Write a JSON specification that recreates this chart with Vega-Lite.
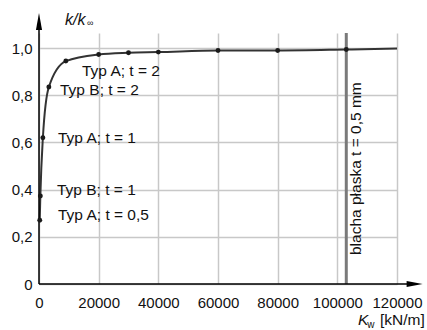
{
  "$schema": "https://vega.github.io/schema/vega-lite/v6.json",
  "width": 358,
  "height": 251,
  "autosize": "none",
  "padding": {"left": 39, "top": 33, "right": 30, "bottom": 46},
  "background": "white",
  "config": {"view": {"stroke": null}, "font": "Liberation Sans"},
  "datasets": {
    "curve": [
      {"kw": 250, "k": 0.27, "pt": true},
      {"kw": 450, "k": 0.373, "pt": true},
      {"kw": 1300, "k": 0.62, "pt": true},
      {"kw": 3300, "k": 0.835, "pt": true},
      {"kw": 9000, "k": 0.945, "pt": true},
      {"kw": 20000, "k": 0.973, "pt": true},
      {"kw": 30000, "k": 0.98, "pt": true},
      {"kw": 40000, "k": 0.983, "pt": true},
      {"kw": 60000, "k": 0.99, "pt": true},
      {"kw": 80000, "k": 0.99, "pt": true},
      {"kw": 103000, "k": 0.994, "pt": true},
      {"kw": 120000, "k": 0.998, "pt": false}
    ],
    "labels": [
      {"label": "Typ A; t = 2", "lx": 14400, "ly": 0.9025},
      {"label": "Typ B; t = 2", "lx": 7040, "ly": 0.822},
      {"label": "Typ A; t = 1", "lx": 6370, "ly": 0.619},
      {"label": "Typ B; t = 1", "lx": 6030, "ly": 0.398},
      {"label": "Typ A; t = 0,5", "lx": 6370, "ly": 0.292}
    ],
    "one": [{}]
  },
  "layer": [
    {
      "data": {"name": "curve"},
      "mark": {"type": "line", "interpolate": "monotone", "color": "#333333", "strokeWidth": 2},
      "encoding": {
        "x": {
          "field": "kw", "type": "quantitative",
          "scale": {"domain": [0, 120000], "nice": false, "zero": false},
          "axis": {
            "values": [0, 20000, 40000, 60000, 80000, 100000, 120000],
            "format": "d", "title": null, "grid": true, "gridColor": "#c8c8c8", "gridWidth": 1.5,
            "domain": false, "ticks": false, "tickSize": 0, "labelPadding": 11, "labelOverlap": false, "labelFlush": false,
            "labelFontSize": 15, "labelColor": "#111111", "labelFont": "Liberation Sans"
          }
        },
        "y": {
          "field": "k", "type": "quantitative",
          "scale": {"domain": [0, 1.064], "nice": false, "zero": false},
          "axis": {
            "values": [0, 0.2, 0.4, 0.6, 0.8, 1.0],
            "labelExpr": "datum.value == 0 ? '0' : replace(format(datum.value, '.1f'), '.', ',')",
            "title": null, "grid": true, "gridColor": "#c8c8c8", "gridWidth": 1.5,
            "domain": false, "ticks": false, "tickSize": 0, "labelPadding": 7, "labelOverlap": false, "labelFlush": false,
            "labelFontSize": 15, "labelColor": "#111111", "labelFont": "Liberation Sans"
          }
        }
      }
    },
    {
      "data": {"name": "one"},
      "mark": {"type": "rule", "color": "#7a7a7a", "strokeWidth": 3},
      "encoding": {"x": {"datum": 103000}, "y": {"datum": 0}, "y2": {"datum": 1.064}}
    },
    {
      "data": {"name": "one"},
      "mark": {"type": "rule", "color": "#000000", "strokeWidth": 1.5},
      "encoding": {"x": {"datum": 0}, "y": {"datum": 0}, "y2": {"datum": 1.11}}
    },
    {
      "data": {"name": "one"},
      "mark": {"type": "rule", "color": "#000000", "strokeWidth": 1.5},
      "encoding": {"y": {"datum": 0}, "x": {"datum": 0}, "x2": {"datum": 125900}}
    },
    {
      "data": {"name": "one"},
      "mark": {"type": "point", "shape": "M0,-1L0.36,1L-0.36,1Z", "filled": true, "size": 289, "color": "#000000", "opacity": 1},
      "encoding": {"x": {"datum": 0}, "y": {"datum": 1.113}}
    },
    {
      "data": {"name": "one"},
      "mark": {"type": "point", "shape": "M1,0L-1,-0.375L-1,0.375Z", "filled": true, "size": 256, "color": "#000000", "opacity": 1},
      "encoding": {"x": {"datum": 125900}, "y": {"datum": 0}}
    },
    {
      "data": {"name": "curve"},
      "transform": [{"filter": "datum.pt"}],
      "mark": {"type": "circle", "color": "#1a1a1a", "size": 24, "opacity": 1},
      "encoding": {"x": {"field": "kw", "type": "quantitative"}, "y": {"field": "k", "type": "quantitative"}}
    },
    {
      "data": {"name": "labels"},
      "mark": {"type": "text", "align": "left", "baseline": "middle", "fontSize": 15.5, "color": "#111111"},
      "encoding": {
        "x": {"field": "lx", "type": "quantitative"},
        "y": {"field": "ly", "type": "quantitative"},
        "text": {"field": "label"}
      }
    },
    {
      "data": {"name": "one"},
      "mark": {"type": "text", "angle": 270, "align": "center", "baseline": "middle", "fontSize": 15.5, "color": "#111111", "text": "blacha płaska t = 0,5 mm"},
      "encoding": {"x": {"datum": 106260}, "y": {"datum": 0.489}}
    },
    {
      "data": {"name": "one"},
      "mark": {"type": "text", "align": "left", "baseline": "alphabetic", "fontSize": 15.5, "fontStyle": "italic", "color": "#111111", "text": "K"},
      "encoding": {"x": {"datum": 106930}, "y": {"datum": -0.174}}
    },
    {
      "data": {"name": "one"},
      "mark": {"type": "text", "align": "left", "baseline": "alphabetic", "fontSize": 10, "color": "#111111", "text": "w"},
      "encoding": {"x": {"datum": 110000}, "y": {"datum": -0.186}}
    },
    {
      "data": {"name": "one"},
      "mark": {"type": "text", "align": "left", "baseline": "alphabetic", "fontSize": 15.5, "color": "#111111", "text": "[kN/m]"},
      "encoding": {"x": {"datum": 114300}, "y": {"datum": -0.174}}
    },
    {
      "data": {"name": "one"},
      "mark": {"type": "text", "align": "left", "baseline": "alphabetic", "fontSize": 16, "fontStyle": "italic", "color": "#111111", "text": "k/k"},
      "encoding": {"x": {"datum": 8700}, "y": {"datum": 1.097}}
    },
    {
      "data": {"name": "one"},
      "mark": {"type": "text", "align": "left", "baseline": "alphabetic", "fontSize": 9, "color": "#111111", "text": "∞"},
      "encoding": {"x": {"datum": 16100}, "y": {"datum": 1.093}}
    }
  ]
}
